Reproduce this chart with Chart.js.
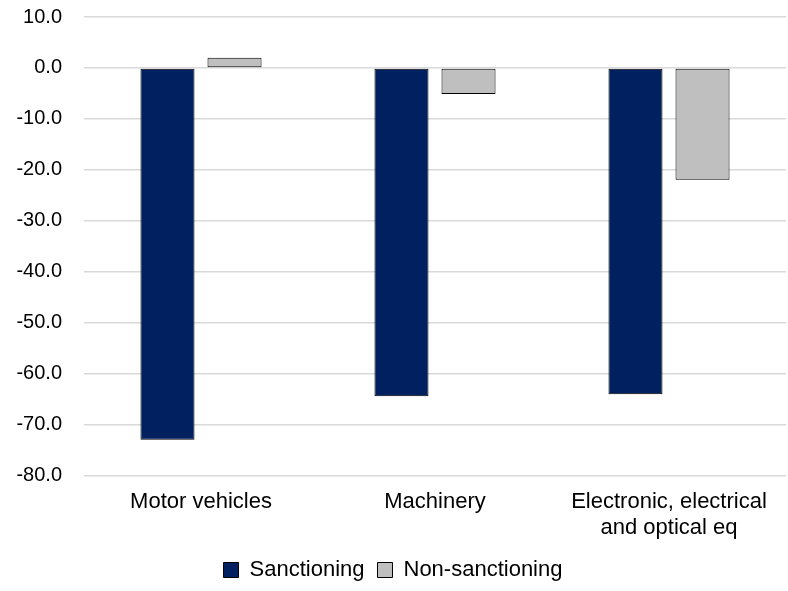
<!DOCTYPE html>
<html>
<head>
<meta charset="utf-8">
<script src="https://cdn.jsdelivr.net/npm/chart.js@4/dist/chart.umd.min.js"></script>
<style>
  html, body { margin: 0; padding: 0; background: #fff; }
  #wrap { width: 788px; height: 591px; position: relative; }
</style>
</head>
<body>
<div id="wrap"><canvas id="chart"></canvas></div>
<script>
const categories = [["Motor vehicles"], ["Machinery"], ["Electronic, electrical", "and optical eq"]];
const sanctioning = [-72.9, -64.4, -64.0];
const nonSanctioning = [2.0, -5.1, -21.9];
const yTicks = { min: -80, max: 10, step: 10 };

Chart.defaults.font.family = "'Liberation Sans', Arial, sans-serif";
Chart.defaults.font.size = 20;
Chart.defaults.color = "#000";

const ctx = document.getElementById("chart");
new Chart(ctx, {
    type: "bar",
    data: {
        labels: categories,
        datasets: [
            {
                label: "Sanctioning",
                data: sanctioning,
                backgroundColor: "#002060",
                borderColor: "#000",
                borderWidth: 1,
                borderSkipped: false,
                barPercentage: 0.806,
                categoryPercentage: 0.573,
            },
            {
                label: "Non-sanctioning",
                data: nonSanctioning,
                backgroundColor: "#bfbfbf",
                borderColor: "#000",
                borderWidth: 1,
                borderSkipped: false,
                barPercentage: 0.806,
                categoryPercentage: 0.573,
            },
        ],
    },
    options: {
        responsive: true,
        maintainAspectRatio: false,
        animation: false,
        layout: { padding: { left: 0, right: 2, top: 17, bottom: 0 } },
        plugins: {
            legend: {
                position: "bottom",
                labels: {
                    boxWidth: 15,
                    boxHeight: 15,
                    padding: 13,
                    font: { size: 22 },
                },
            },
            tooltip: { enabled: false },
        },
        scales: {
            x: {
                grid: { display: false },
                border: { display: false },
                ticks: { padding: 6, font: { size: 22, lineHeight: 1.14 }, maxRotation: 0 },
            },
            y: {
                min: yTicks.min,
                max: yTicks.max,
                ticks: {
                    stepSize: yTicks.step,
                    padding: 22,
                    font: { size: 20 },
                    callback: (v) => v.toFixed(1),
                },
                grid: { color: "#d9d9d9", lineWidth: 1.5, drawTicks: false },
                border: { display: false },
                afterFit: (scale) => {
                    scale.width = 84;
                    scale.paddingTop = 0;
                    scale.paddingBottom = 0;
                },
            },
        },
    },
});
</script>
</body>
</html>
